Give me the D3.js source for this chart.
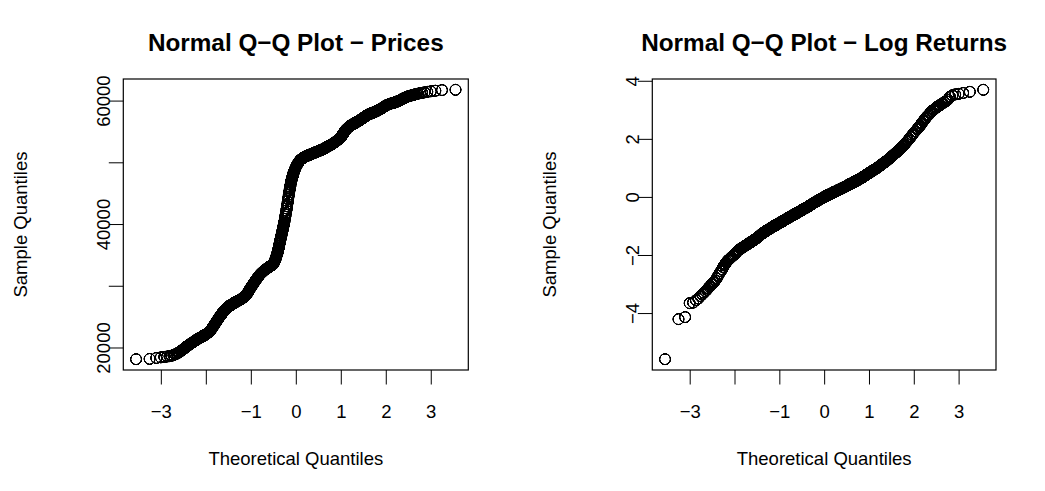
<!DOCTYPE html>
<html>
<head>
<meta charset="utf-8">
<script src="https://cdn.jsdelivr.net/npm/d3@7"></script>
<style>
  html, body { margin: 0; padding: 0; background: #ffffff; }
  svg { display: block; }
</style>
</head>
<body>
<script>
// ---------------------------------------------------------------
// Sorted daily closing prices (thinned where points pile up).
// Each block is [first rank, rank step, number of values].
// ---------------------------------------------------------------
const priceCount = 2600;
const priceBlocks = [[1,1,20],[22,2,15],[52,2,50],[155,5,30],[310,10,40],[708,8,70],
                     [1275,15,60],[2165,5,30],[2316,6,25],[2464,4,25],[2562,2,10],[2581,1,20]];
const priceValues = [
  // ranks 1-20
  18100,18150,18300,18400,18480,18540,18590,18680,18760,18880,
  19000,19120,19250,19400,19500,19650,19760,19880,20000,20150,
  // ranks 22-50
  20300,20470,20650,20780,20900,21030,21150,21250,21360,21430,
  21540,21590,21660,21740,21820,
  // ranks 52-150
  21880,21940,21995,22050,22125,22200,22280,22360,22440,22520,
  22590,22660,22770,22880,22995,23110,23235,23360,23470,23580,
  23695,23810,23910,24010,24115,24220,24320,24420,24510,24600,
  24695,24790,24885,24980,25050,25120,25200,25280,25355,25430,
  25505,25580,25655,25730,25800,25870,25925,25980,26025,26070,
  // ranks 155-300
  26180,26290,26400,26520,26630,26740,26780,26820,26860,26910,
  27000,27100,27150,27200,27250,27300,27350,27390,27430,27480,
  27520,27570,27610,27650,27700,27740,27780,27820,27860,27900,
  // ranks 310-700
  28020,28130,28250,28360,28470,28640,28850,29050,29260,29460,
  29650,29830,29990,30160,30330,30490,30650,30810,30960,31100,
  31240,31380,31510,31650,31790,31880,31980,32070,32160,32250,
  32330,32420,32510,32570,32630,32690,32750,32800,32860,32930,
  // ranks 708-1260
  32970,33015,33060,33105,33155,33200,33245,33285,33330,33375,
  33420,33465,33516,33660,33800,33950,34090,34240,34396,34590,
  34800,35000,35190,35400,35640,35910,36180,36490,36760,37030,
  37300,37550,37810,38060,38350,38610,38870,39140,39410,39680,
  39960,40230,40500,40840,41170,41510,41840,42180,42520,42890,
  43270,43660,44040,44380,44760,45120,45440,45760,46040,46360,
  46680,46960,47180,47390,47570,47780,47960,48170,48350,48500,
  // ranks 1275-2160
  48760,49020,49260,49460,49670,49870,50020,50170,50310,50430,
  50500,50570,50650,50720,50790,50870,50930,50970,51010,51060,
  51100,51150,51200,51240,51290,51330,51380,51430,51470,51520,
  51570,51620,51670,51710,51760,51810,51860,51910,51960,52010,
  52070,52120,52190,52260,52340,52410,52480,52560,52630,52710,
  52780,52860,52950,53050,53150,53250,53360,53480,53620,53750,
  // ranks 2165-2310
  53800,53845,53890,53940,53990,54050,54150,54240,54340,54430,
  54530,54620,54720,54820,54920,55020,55120,55220,55280,55350,
  55410,55480,55540,55610,55680,55740,55810,55860,55920,55970,
  // ranks 2316-2460
  56020,56070,56120,56170,56220,56280,56330,56380,56440,56500,
  56560,56620,56680,56750,56830,56910,56990,57080,57160,57250,
  57340,57440,57530,57640,57720,
  // ranks 2464-2560
  57770,57810,57850,57900,57940,57990,58040,58090,58140,58200,
  58260,58320,58400,58480,58570,58660,58750,58890,59020,59150,
  59260,59350,59450,59530,59610,
  // ranks 2562-2580
  59650,59690,59740,59820,59900,59970,60070,60190,60320,60450,
  // ranks 2581-2600
  60490,60550,60610,60670,60720,60780,60820,60880,60940,61000,
  61060,61130,61190,61260,61330,61420,61500,61600,61700,61750
];

// ---------------------------------------------------------------
// Sorted daily log returns (same thinning scheme).
// ---------------------------------------------------------------
const returnCount = 2599;
const returnBlocks = [[1,1,20],[22,2,15],[55,5,20],[155,5,50],[410,10,50],[915,15,53],
                      [1700,10,50],[2200,5,50],[2450,5,20],[2550,2,15],[2580,1,20]];
const returnValues = [
  // ranks 1-20
  -5.59,-4.21,-4.14,-3.66,-3.64,-3.56,-3.50,-3.42,-3.36,-3.30,
  -3.25,-3.20,-3.15,-3.10,-3.07,-3.02,-2.99,-2.95,-2.92,-2.88,
  // ranks 22-50
  -2.80,-2.71,-2.63,-2.56,-2.50,-2.42,-2.36,-2.31,-2.26,-2.22,
  -2.18,-2.16,-2.13,-2.11,-2.08,
  // ranks 55-150
  -2.03,-1.98,-1.92,-1.87,-1.82,-1.79,-1.77,-1.74,-1.72,-1.69,
  -1.67,-1.65,-1.63,-1.60,-1.59,-1.57,-1.55,-1.53,-1.51,-1.50,
  // ranks 155-400
  -1.48,-1.46,-1.445,-1.43,-1.41,-1.39,-1.375,-1.36,-1.34,-1.32,
  -1.30,-1.28,-1.27,-1.26,-1.245,-1.23,-1.22,-1.21,-1.195,-1.18,
  -1.17,-1.16,-1.15,-1.14,-1.13,-1.12,-1.11,-1.10,-1.09,-1.08,
  -1.07,-1.06,-1.05,-1.04,-1.035,-1.03,-1.02,-1.01,-1.00,-0.99,
  -0.985,-0.98,-0.97,-0.96,-0.955,-0.95,-0.94,-0.93,-0.925,-0.92,
  // ranks 410-900
  -0.90,-0.89,-0.875,-0.86,-0.85,-0.84,-0.825,-0.81,-0.795,-0.78,
  -0.77,-0.76,-0.745,-0.73,-0.72,-0.71,-0.70,-0.69,-0.675,-0.66,
  -0.65,-0.64,-0.63,-0.62,-0.61,-0.60,-0.59,-0.58,-0.57,-0.56,
  -0.55,-0.54,-0.53,-0.52,-0.51,-0.50,-0.49,-0.48,-0.47,-0.46,
  -0.45,-0.44,-0.43,-0.42,-0.41,-0.40,-0.39,-0.38,-0.375,-0.37,
  // ranks 915-1695
  -0.355,-0.34,-0.325,-0.31,-0.295,-0.28,
  -0.265,-0.25,-0.235,-0.22,-0.205,-0.19,-0.18,
  -0.17,-0.155,-0.14,-0.125,-0.11,-0.10,-0.09,
  -0.075,-0.06,-0.05,-0.04,-0.025,-0.01,0.00,
  0.01,0.025,0.04,0.05,0.06,0.07,0.08,
  0.09,0.10,0.11,0.12,0.135,0.15,0.16,
  0.17,0.18,0.19,0.20,0.21,0.225,0.24,
  0.25,0.26,0.27,0.28,0.29,
  // ranks 1700-2190
  0.30,0.305,0.31,0.32,0.33,0.34,0.35,0.355,0.36,0.37,
  0.38,0.39,0.40,0.41,0.42,0.43,0.44,0.445,0.45,0.46,
  0.47,0.48,0.49,0.50,0.51,0.52,0.53,0.54,0.55,0.56,
  0.57,0.58,0.59,0.60,0.61,0.625,0.64,0.65,0.66,0.675,
  0.69,0.705,0.72,0.735,0.75,0.765,0.78,0.795,0.81,0.825,
  // ranks 2200-2445
  0.84,0.85,0.86,0.865,0.87,0.88,0.89,0.90,0.91,0.92,
  0.93,0.935,0.94,0.95,0.96,0.97,0.98,0.99,1.00,1.01,
  1.02,1.03,1.04,1.055,1.07,1.08,1.09,1.105,1.12,1.13,
  1.14,1.155,1.17,1.18,1.19,1.205,1.22,1.235,1.25,1.27,
  1.29,1.305,1.32,1.335,1.35,1.375,1.40,1.42,1.44,1.465,
  // ranks 2450-2545
  1.49,1.51,1.53,1.56,1.59,1.61,1.63,1.67,1.70,1.74,
  1.77,1.81,1.86,1.90,1.95,2.00,2.06,2.13,2.20,2.26,
  // ranks 2550-2578
  2.33,2.36,2.40,2.43,2.46,2.51,2.55,2.60,2.64,2.69,
  2.74,2.79,2.83,2.89,2.95,
  // ranks 2580-2599
  2.99,3.01,3.04,3.07,3.09,3.12,3.14,3.17,3.20,3.23,
  3.26,3.30,3.35,3.45,3.50,3.53,3.55,3.58,3.62,3.69
];

// Axis ticks and their labels (blank = label suppressed where it would overlap)
const xTicks = [-3, -2, -1, 0, 1, 2, 3];
const xTickLabels = ["\u22123", "", "\u22121", "0", "1", "2", "3"];
const priceTicks = [20000, 30000, 40000, 50000, 60000];
const priceTickLabels = ["20000", "", "40000", "", "60000"];
const returnTicks = [-4, -2, 0, 2, 4];
const returnTickLabels = ["\u22124", "\u22122", "0", "2", "4"];

const titles = ["Normal Q\u2212Q Plot \u2212 Prices", "Normal Q\u2212Q Plot \u2212 Log Returns"];
const xTitle = "Theoretical Quantiles";
const yTitle = "Sample Quantiles";

// ---------------------------------------------------------------
const W = 1045, H = 491;
const FONT = "'Liberation Sans', Arial, Helvetica, sans-serif";
const AXIS_FS = 18.5, TITLE_FS = 24.3;
const TICK = 14.5;

// inverse standard normal CDF (Acklam)
function qnorm(p) {
  const a = [-3.969683028665376e+01, 2.209460984245205e+02, -2.759285104469687e+02,
             1.383577518672690e+02, -3.066479806614716e+01, 2.506628277459239e+00];
  const b = [-5.447609879822406e+01, 1.615858368580409e+02, -1.556989798598866e+02,
             6.680131188771972e+01, -1.328068155288572e+01];
  const c = [-7.784894002430293e-03, -3.223964580411365e-01, -2.400758277161838e+00,
             -2.549671348283441e+00, 4.374664141464968e+00, 2.938163982698783e+00];
  const d = [7.784695709041462e-03, 3.224671290700398e-01, 2.445134137142996e+00,
             3.754408661907416e+00];
  const pl = 0.02425;
  if (p < pl) {
    const q = Math.sqrt(-2 * Math.log(p));
    return (((((c[0]*q+c[1])*q+c[2])*q+c[3])*q+c[4])*q+c[5]) /
           ((((d[0]*q+d[1])*q+d[2])*q+d[3])*q+1);
  }
  if (p > 1 - pl) {
    const q = Math.sqrt(-2 * Math.log(1 - p));
    return -(((((c[0]*q+c[1])*q+c[2])*q+c[3])*q+c[4])*q+c[5]) /
            ((((d[0]*q+d[1])*q+d[2])*q+d[3])*q+1);
  }
  const q = p - 0.5, r = q * q;
  return (((((a[0]*r+a[1])*r+a[2])*r+a[3])*r+a[4])*r+a[5]) * q /
         (((((b[0]*r+b[1])*r+b[2])*r+b[3])*r+b[4])*r+1);
}

// pair each sorted value with the normal quantile of its rank, (i - 1/2) / n
function qqPoints(n, blocks, values) {
  const pts = [];
  let k = 0;
  blocks.forEach(([start, step, count]) => {
    for (let j = 0; j < count && k < values.length; j++, k++) {
      const rank = start + j * step;
      pts.push({ t: qnorm((rank - 0.5) / n), v: values[k] });
    }
  });
  return pts;
}

// 4% padding on each side of the data range
function padded([lo, hi]) {
  const d = (hi - lo) * 0.04;
  return [lo - d, hi + d];
}

const svg = d3.select("body").append("svg")
  .attr("width", W).attr("height", H)
  .style("background", "#ffffff");

// overlapping rings build up to solid ink where they crowd together
const ink = svg.append("defs").append("filter").attr("id", "ink")
  .attr("filterUnits", "userSpaceOnUse")
  .attr("x", 0).attr("y", 0).attr("width", W).attr("height", H);
ink.append("feComponentTransfer")
  .append("feFuncA").attr("type", "linear").attr("slope", 2.4).attr("intercept", 0);

function drawPanel(o) {
  const g = svg.append("g");
  const cx = (o.left + o.right) / 2, cy = (o.top + o.bottom) / 2;

  const x = d3.scaleLinear().domain(padded(d3.extent(o.points, d => d.t))).range([o.left, o.right]);
  const y = d3.scaleLinear().domain(padded(d3.extent(o.points, d => d.v))).range([o.bottom, o.top]);

  // open circles, one per observation
  g.append("g")
    .attr("filter", "url(#ink)")
    .selectAll("circle")
    .data(o.points)
    .join("circle")
    .attr("cx", d => x(d.t))
    .attr("cy", d => y(d.v))
    .attr("r", 5.4)
    .attr("fill", "none")
    .attr("stroke", "#000")
    .attr("stroke-width", 1);

  // bottom axis
  const xa = g.append("g")
    .attr("transform", `translate(0,${o.bottom})`)
    .call(d3.axisBottom(x)
      .tickValues(xTicks)
      .tickSize(TICK)
      .tickPadding(20.8)
      .tickFormat((d, i) => xTickLabels[i]));
  xa.select(".domain").remove();
  xa.attr("font-family", FONT).attr("font-size", AXIS_FS);
  xa.selectAll(".tick line").attr("stroke", "#000").attr("stroke-width", 1);
  xa.selectAll(".tick text").attr("fill", "#000");

  // left axis, labels parallel to the axis
  const ya = g.append("g")
    .attr("transform", `translate(${o.left},0)`)
    .call(d3.axisLeft(y)
      .tickValues(o.yTicks)
      .tickSize(TICK)
      .tickFormat((d, i) => o.yTickLabels[i]));
  ya.select(".domain").remove();
  ya.attr("font-family", FONT).attr("font-size", AXIS_FS);
  ya.selectAll(".tick line").attr("stroke", "#000").attr("stroke-width", 1);
  ya.selectAll(".tick text")
    .attr("x", null)
    .attr("fill", "#000")
    .attr("text-anchor", "middle")
    .attr("dy", "0.36em")
    .attr("transform", "translate(-20,0) rotate(-90)");

  // plot frame
  g.append("rect")
    .attr("x", o.left).attr("y", o.top)
    .attr("width", o.right - o.left).attr("height", o.bottom - o.top)
    .attr("fill", "none").attr("stroke", "#000").attr("stroke-width", 1.2);

  // title and axis titles
  g.append("text")
    .attr("x", cx).attr("y", 42).attr("dy", "0.36em")
    .attr("text-anchor", "middle")
    .attr("font-family", FONT).attr("font-size", TITLE_FS).attr("font-weight", "bold")
    .text(o.title);

  g.append("text")
    .attr("x", cx).attr("y", o.bottom + 88).attr("dy", "0.36em")
    .attr("text-anchor", "middle")
    .attr("font-family", FONT).attr("font-size", AXIS_FS)
    .text(xTitle);

  g.append("text")
    .attr("transform", `translate(${o.left - 103},${cy}) rotate(-90)`)
    .attr("dy", "0.36em")
    .attr("text-anchor", "middle")
    .attr("font-family", FONT).attr("font-size", AXIS_FS)
    .text(yTitle);
}

drawPanel({
  left: 123.3, right: 468.3, top: 79, bottom: 370,
  points: qqPoints(priceCount, priceBlocks, priceValues),
  yTicks: priceTicks, yTickLabels: priceTickLabels,
  title: titles[0]
});

drawPanel({
  left: 652.3, right: 996, top: 79, bottom: 370,
  points: qqPoints(returnCount, returnBlocks, returnValues),
  yTicks: returnTicks, yTickLabels: returnTickLabels,
  title: titles[1]
});
</script>
</body>
</html>
